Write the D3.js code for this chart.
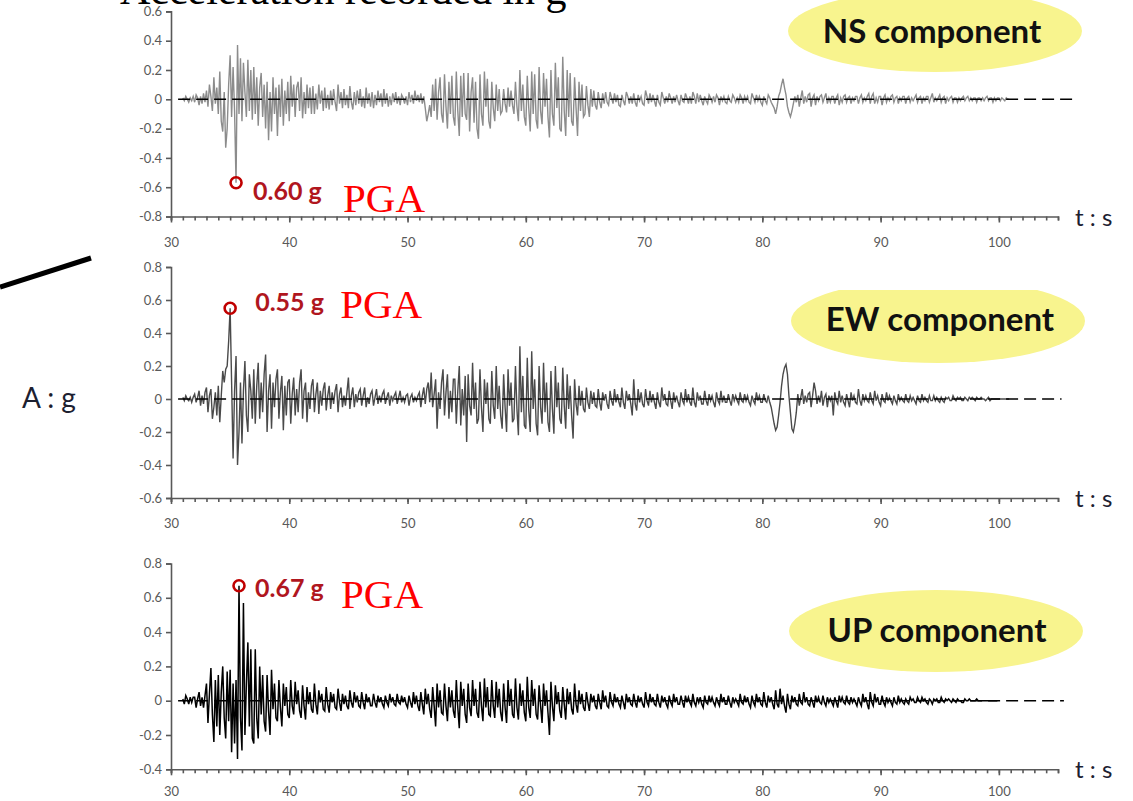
<!DOCTYPE html>
<html lang="en">
<head>
<meta charset="UTF-8"/>
<title>Acceleration recorded in g</title>
<script src="https://d3js.org/d3.v7.min.js"></script>
<style>
  body { margin: 0; background: #fff; }
  svg { display: block; }
</style>
</head>
<body>
<script>
    // sampling of the traces (seconds): 8 readings per second from t = 31 s
    var T0 = 31, DT = 0.125;

    // NS component, g (one row per second)
    var nsAccel = [
        0.01,-0.01,0.02,0.00,-0.02,0.01,-0.01,0.02,
        -0.02,0.03,0.01,-0.04,0.02,-0.03,0.04,-0.02,
        0.06,-0.05,0.1,0.02,-0.08,0.15,-0.03,0.08,
        -0.1,0.19,-0.15,-0.22,0.05,-0.33,-0.2,0.1,
        0.3,-0.12,0.22,-0.08,-0.57,0.37,-0.1,0.28,
        -0.15,0.25,0.05,-0.12,0.27,-0.08,0.2,-0.14,
        0.22,-0.1,0.15,-0.18,0.08,0.18,-0.12,0.1,
        -0.2,0.12,-0.28,0.05,-0.22,0.15,-0.1,0.08,
        -0.25,0.1,-0.12,0.14,-0.18,0.06,-0.1,0.12,
        -0.15,0.16,-0.05,0.1,-0.12,0.08,0.12,-0.08,
        0.15,-0.13,0.05,-0.1,0.1,-0.06,0.08,-0.1,
        0.09,-0.1,0.04,-0.07,0.1,-0.03,0.06,-0.08,
        0.08,-0.06,0.03,-0.07,0.06,-0.04,0.07,-0.02,
        -0.08,0.1,-0.03,0.05,-0.06,0.07,-0.04,0.03,
        -0.06,0.09,-0.02,-0.07,0.05,-0.04,0.06,-0.03,
        0.07,-0.05,0.02,-0.06,0.08,-0.03,0.04,-0.05,
        0.05,-0.06,0.03,-0.04,0.06,-0.02,0.04,-0.05,
        0.07,-0.03,0.04,-0.05,0.02,-0.04,0.04,-0.02,
        0.05,-0.03,0.02,-0.04,0.03,0.01,-0.03,0.02,
        -0.04,0.05,-0.02,0.03,-0.03,0.06,-0.01,0.03,
        -0.02,0.04,-0.03,0.02,-0.06,-0.15,-0.1,-0.04,
        -0.12,0.1,-0.08,0.14,-0.14,0.05,0.15,-0.1,
        -0.16,0.17,-0.05,-0.2,0.12,-0.1,0.16,-0.12,
        -0.18,0.19,-0.08,-0.25,0.16,-0.12,0.18,-0.1,
        -0.14,0.18,-0.22,0.05,0.15,-0.16,0.12,-0.2,
        -0.27,0.17,-0.1,-0.18,0.19,-0.05,0.14,-0.15,
        -0.2,0.12,-0.06,-0.15,0.1,-0.08,0.07,-0.1,
        -0.08,0.07,-0.03,-0.09,0.08,-0.05,0.06,-0.04,
        -0.1,0.12,-0.05,-0.15,0.2,-0.08,0.1,-0.12,
        -0.18,0.16,-0.06,-0.22,0.19,-0.1,0.17,-0.14,
        -0.2,0.22,-0.08,-0.17,0.18,-0.05,0.14,-0.12,
        -0.26,0.2,-0.1,-0.18,0.25,-0.06,0.15,-0.2,
        -0.22,0.29,-0.08,-0.25,0.2,-0.12,0.18,-0.15,
        -0.18,0.15,-0.06,-0.25,0.12,-0.08,0.1,-0.12,
        -0.1,0.09,-0.04,-0.12,0.07,-0.05,0.06,-0.04,
        -0.07,0.05,-0.02,-0.06,0.04,-0.03,0.05,-0.02,
        -0.04,0.05,0.01,-0.03,0.04,-0.02,0.03,-0.04,
        -0.05,0.03,-0.01,-0.04,0.05,0.02,-0.03,0.02,
        -0.03,0.04,-0.02,-0.05,0.03,-0.01,0.02,-0.03,
        -0.04,0.06,0.02,-0.03,0.04,-0.02,0.03,-0.01,
        -0.05,0.03,-0.02,-0.04,0.05,0.01,-0.03,0.02,
        -0.02,0.04,0.01,-0.03,0.02,-0.02,0.03,-0.01,
        -0.04,0.03,-0.01,-0.02,0.04,0.01,-0.03,0.02,
        -0.03,0.05,0.02,-0.03,0.04,-0.02,0.03,-0.01,
        -0.04,0.02,-0.01,-0.03,0.03,0.01,-0.02,0.02,
        -0.02,0.03,0.01,-0.04,0.02,-0.01,0.02,-0.02,
        -0.03,0.02,-0.01,-0.02,0.03,0.01,-0.02,0.01,
        -0.02,0.03,0.01,-0.03,0.02,-0.01,0.02,-0.02,
        -0.03,0.04,0.01,-0.02,0.03,-0.01,0.02,-0.02,
        -0.04,0.02,-0.01,-0.03,0.03,0.01,-0.02,-0.04,
        -0.06,-0.1,-0.05,0.02,0.05,0.1,0.14,0.08,
        0.03,-0.05,-0.09,-0.12,-0.08,-0.03,0.02,-0.02,
        0.03,-0.05,0.01,0.06,-0.03,0.02,-0.02,0.03,
        0.04,-0.05,0.01,0.03,-0.04,0.02,-0.01,0.02,
        0.03,-0.02,0.01,0.04,-0.03,0.01,-0.02,0.02,
        0.02,-0.03,0.01,0.03,-0.04,0.01,-0.02,0.02,
        0.03,-0.02,0.01,0.02,-0.03,0.01,-0.01,0.02,
        0.02,-0.03,0.01,0.03,-0.02,0.01,-0.01,0.02,
        0.04,-0.03,0.02,0.04,-0.03,0.01,-0.02,0.02,
        0.02,-0.04,0.01,0.03,-0.02,0.01,-0.01,0.02,
        0.03,-0.02,0.01,0.02,-0.03,0.01,-0.01,0.02,
        0.02,-0.03,0.01,0.02,-0.02,0.01,-0.01,0.01,
        0.03,-0.02,0.01,0.02,-0.03,0.01,-0.01,0.02,
        0.02,-0.02,0.01,0.04,-0.02,0.01,-0.01,0.01,
        0.03,-0.02,0.01,0.02,-0.03,0.01,-0.01,0.01,
        0.02,-0.02,0.01,0.01,-0.02,0.01,-0.01,0.01,
        0.02,-0.01,0.01,0.02,-0.01,0.01,-0.01,0.01,
        0.01,-0.02,0.01,0.01,-0.01,0.01,-0.01,0.01,
        0.02,-0.01,0.01,0.01,-0.02,0.01,-0.01,0.01,
        0.01,-0.01,0.01,0.00,-0.01,0.01,0.00,0.00
    ];

    // EW component, g
    var ewAccel = [
        0.01,-0.01,0.02,0.00,-0.01,0.01,-0.02,0.01,
        0.03,-0.02,0.01,0.05,-0.04,0.02,-0.03,0.04,
        0.07,-0.08,0.02,0.06,-0.12,-0.05,0.04,-0.1,
        0.08,-0.14,0.02,0.17,0.1,0.18,0.2,0.35,
        0.55,0.1,-0.36,0.05,0.26,-0.4,-0.2,0.1,
        -0.27,0.05,0.23,-0.1,-0.2,0.15,0.05,-0.12,
        0.18,-0.15,0.08,0.22,-0.12,0.1,-0.08,0.15,
        0.27,-0.2,0.05,0.15,-0.18,0.1,-0.05,0.12,
        0.18,-0.12,0.04,0.14,-0.19,0.08,-0.1,0.1,
        0.12,-0.15,0.03,0.13,-0.1,0.06,-0.08,0.1,
        0.18,-0.12,0.05,0.1,-0.14,0.04,-0.06,0.08,
        0.12,-0.08,0.03,0.1,-0.09,0.05,-0.04,0.06,
        0.1,-0.07,0.02,0.08,-0.06,0.04,-0.03,0.05,
        0.09,-0.08,0.03,0.07,-0.05,0.02,-0.04,0.04,
        0.13,-0.06,0.02,0.07,-0.05,0.03,-0.02,0.04,
        0.06,-0.04,0.02,0.07,-0.05,0.01,-0.03,0.03,
        0.05,-0.04,0.01,0.06,-0.03,0.02,-0.02,0.03,
        0.05,-0.03,0.01,0.04,-0.04,0.02,-0.01,0.02,
        0.04,-0.03,0.01,0.05,-0.02,0.01,-0.02,0.02,
        0.03,-0.04,0.01,0.03,-0.02,0.01,-0.01,0.02,
        0.04,-0.05,0.02,0.07,-0.03,0.06,0.1,-0.02,
        0.16,-0.05,0.03,0.12,-0.18,0.04,-0.06,0.1,
        0.18,-0.1,0.04,0.15,-0.12,0.05,-0.08,0.12,
        0.12,-0.15,0.05,0.2,-0.16,0.06,-0.1,0.14,
        -0.26,0.15,-0.04,-0.1,0.22,-0.06,0.1,-0.15,
        -0.12,0.18,-0.05,-0.2,0.12,-0.03,0.1,-0.12,
        -0.15,0.17,-0.04,-0.12,0.2,-0.06,0.08,-0.1,
        -0.18,0.15,-0.05,-0.2,0.18,-0.04,0.1,-0.14,
        -0.12,0.2,-0.06,-0.22,0.32,-0.08,0.14,-0.16,
        -0.18,0.25,-0.07,-0.2,0.29,-0.06,0.12,-0.15,
        -0.22,0.2,-0.05,-0.15,0.22,-0.08,0.1,-0.14,
        -0.2,0.17,-0.06,-0.21,0.2,-0.05,0.1,-0.12,
        -0.15,0.19,-0.04,-0.18,0.15,-0.06,0.08,-0.1,
        -0.24,0.12,-0.03,-0.1,0.08,-0.04,0.05,-0.06,
        -0.08,0.07,-0.02,-0.06,0.05,-0.03,0.04,-0.04,
        -0.05,0.06,-0.02,-0.07,0.04,-0.01,0.03,-0.03,
        -0.06,0.05,-0.01,-0.04,0.06,-0.02,0.03,-0.02,
        -0.05,0.07,-0.02,-0.06,0.05,-0.01,0.03,-0.03,
        -0.1,0.12,-0.03,-0.07,0.06,-0.02,0.04,-0.03,
        -0.05,0.06,-0.01,-0.04,0.05,-0.02,0.03,-0.02,
        -0.06,0.04,-0.02,-0.05,0.07,-0.01,0.03,-0.03,
        -0.04,0.05,-0.01,-0.06,0.04,-0.02,0.02,-0.02,
        -0.05,0.04,-0.01,-0.03,0.06,-0.02,0.03,-0.02,
        -0.04,0.07,-0.02,-0.05,0.04,-0.01,0.02,-0.03,
        -0.03,0.05,-0.01,-0.04,0.03,-0.01,0.02,-0.02,
        -0.05,0.04,-0.01,-0.03,0.05,-0.02,0.02,-0.02,
        -0.02,0.03,-0.01,-0.04,0.03,-0.01,0.02,-0.01,
        -0.03,0.04,-0.01,-0.02,0.03,-0.01,0.02,-0.02,
        -0.04,0.02,-0.01,-0.03,0.04,-0.01,0.02,-0.02,
        -0.02,0.03,-0.01,-0.02,0.02,-0.02,-0.05,-0.1,
        -0.15,-0.19,-0.17,-0.1,-0.02,0.08,0.15,0.19,
        0.21,0.15,0.02,-0.08,-0.18,-0.2,-0.15,-0.08,
        0.03,-0.04,0.01,0.06,-0.03,0.02,-0.02,0.03,
        0.04,-0.05,0.02,0.1,0.05,-0.03,0.02,-0.02,
        0.05,-0.04,0.01,0.03,-0.05,0.02,-0.01,0.02,
        -0.1,0.04,-0.01,-0.03,0.05,-0.02,0.02,-0.02,
        -0.04,0.03,-0.01,-0.05,0.04,-0.01,0.02,-0.02,
        -0.03,0.06,-0.01,-0.04,0.03,-0.01,0.02,-0.01,
        -0.02,0.04,-0.01,-0.03,0.05,-0.01,0.02,-0.02,
        -0.04,0.03,-0.01,-0.02,0.04,-0.01,0.02,-0.01,
        -0.03,0.02,-0.01,-0.03,0.03,-0.01,0.01,-0.01,
        -0.02,0.03,-0.01,-0.02,0.02,-0.01,0.01,-0.01,
        -0.03,0.02,-0.01,-0.02,0.03,-0.01,0.01,-0.01,
        -0.02,0.02,-0.01,-0.01,0.02,-0.01,0.01,-0.01,
        -0.02,0.01,-0.01,-0.02,0.01,0.00,0.01,-0.01,
        -0.01,0.02,0.00,-0.01,0.01,0.00,0.01,-0.01,
        -0.01,0.01,0.00,-0.01,0.01,0.00,0.01,0.00,
        -0.01,0.01,0.00,0.00,0.01,0.00,0.00,-0.01,
        0.00,0.01,-0.01,0.00,0.00,0.00,0.00,0.00,
        0,0,0,0,0,0,0,0
    ];

    // UP component, g
    var upAccel = [
        0.01,-0.02,0.03,0.01,-0.02,0.02,-0.01,0.02,
        0.02,-0.04,0.01,0.05,-0.03,0.02,-0.04,0.03,
        0.1,-0.13,0.04,0.19,-0.08,-0.24,0.12,-0.15,
        0.15,-0.2,0.05,0.2,-0.1,-0.22,0.17,-0.12,
        0.18,-0.3,0.1,-0.25,0.12,-0.34,0.67,-0.1,
        -0.29,0.57,-0.2,0.1,0.34,-0.15,0.3,-0.22,
        -0.25,0.3,-0.1,-0.22,0.2,-0.08,0.15,-0.12,
        -0.18,0.15,-0.06,-0.2,0.18,-0.05,0.1,-0.1,
        -0.12,0.12,-0.04,-0.15,0.1,-0.03,0.08,-0.08,
        -0.1,0.12,-0.03,-0.08,0.11,-0.02,0.06,-0.06,
        -0.1,0.09,-0.03,-0.11,0.08,-0.02,0.05,-0.05,
        -0.07,0.1,-0.02,-0.08,0.06,-0.01,0.04,-0.05,
        -0.06,0.08,-0.02,-0.07,0.05,-0.01,0.04,-0.04,
        -0.05,0.07,-0.01,-0.06,0.04,-0.02,0.03,-0.03,
        -0.05,0.06,-0.01,-0.04,0.05,-0.01,0.03,-0.03,
        -0.04,0.05,-0.01,-0.05,0.04,-0.01,0.02,-0.03,
        -0.03,0.04,-0.01,-0.04,0.03,-0.01,0.02,-0.02,
        -0.04,0.03,-0.01,-0.03,0.04,-0.01,0.02,-0.02,
        -0.03,0.04,-0.01,-0.02,0.03,-0.01,0.02,-0.02,
        -0.04,0.03,-0.01,-0.04,0.05,-0.02,0.03,-0.03,
        -0.06,0.05,-0.02,-0.08,0.07,-0.02,0.04,-0.05,
        -0.1,0.08,-0.03,-0.15,0.1,-0.04,0.06,-0.07,
        -0.08,0.1,-0.03,-0.12,0.08,-0.04,0.06,-0.06,
        -0.1,0.12,-0.04,-0.16,0.11,-0.03,0.07,-0.08,
        -0.13,0.1,-0.04,-0.09,0.12,-0.03,0.07,-0.07,
        -0.1,0.11,-0.03,-0.12,0.13,-0.04,0.08,-0.08,
        -0.09,0.12,-0.03,-0.1,0.11,-0.04,0.07,-0.07,
        -0.12,0.1,-0.04,-0.13,0.12,-0.03,0.07,-0.08,
        -0.1,0.13,-0.04,-0.11,0.1,-0.03,0.06,-0.07,
        -0.12,0.14,-0.04,-0.1,0.12,-0.03,0.07,-0.08,
        -0.11,0.09,-0.03,-0.13,0.1,-0.03,0.06,-0.07,
        -0.2,0.11,-0.03,-0.12,0.09,-0.02,0.05,-0.06,
        -0.1,0.08,-0.02,-0.11,0.07,-0.02,0.05,-0.05,
        -0.08,0.1,-0.02,-0.07,0.06,-0.02,0.04,-0.04,
        -0.06,0.05,-0.01,-0.06,0.04,-0.01,0.03,-0.03,
        -0.05,0.04,-0.01,-0.05,0.06,-0.01,0.03,-0.03,
        -0.04,0.05,-0.01,-0.03,0.04,-0.01,0.02,-0.02,
        -0.04,0.03,-0.01,-0.05,0.04,-0.01,0.02,-0.02,
        -0.03,0.04,-0.01,-0.04,0.03,-0.01,0.02,-0.02,
        -0.04,0.05,-0.01,-0.03,0.04,-0.01,0.02,-0.02,
        -0.03,0.04,-0.01,-0.04,0.03,-0.01,0.02,-0.02,
        -0.04,0.03,-0.01,-0.03,0.04,-0.01,0.02,-0.02,
        -0.02,0.03,-0.01,-0.04,0.03,-0.01,0.02,-0.01,
        -0.03,0.04,-0.01,-0.03,0.02,-0.01,0.02,-0.02,
        -0.04,0.03,-0.01,-0.02,0.03,-0.01,0.02,-0.01,
        -0.03,0.02,-0.01,-0.03,0.04,-0.01,0.02,-0.02,
        -0.02,0.03,-0.01,-0.04,0.02,-0.01,0.01,-0.01,
        -0.03,0.04,-0.01,-0.02,0.03,-0.01,0.02,-0.02,
        -0.04,0.03,-0.01,-0.03,0.04,-0.01,0.02,-0.02,
        -0.03,0.05,-0.01,-0.04,0.03,-0.01,0.02,-0.02,
        -0.05,0.06,-0.02,-0.04,0.07,-0.02,0.03,-0.03,
        -0.07,0.04,-0.02,-0.05,0.03,-0.01,0.02,-0.02,
        -0.03,0.04,-0.01,-0.02,0.05,-0.01,0.02,-0.02,
        -0.03,0.02,-0.01,-0.04,0.03,-0.01,0.02,-0.01,
        -0.02,0.03,-0.01,-0.03,0.02,-0.01,0.01,-0.01,
        -0.03,0.02,-0.01,-0.04,0.03,-0.01,0.02,-0.01,
        -0.02,0.03,-0.01,-0.02,0.02,-0.01,0.01,-0.01,
        -0.03,0.02,-0.01,-0.03,0.04,-0.01,0.02,-0.02,
        -0.05,0.05,-0.01,-0.03,0.04,-0.01,0.02,-0.02,
        -0.02,0.03,-0.01,-0.03,0.02,-0.01,0.01,-0.01,
        -0.03,0.02,-0.01,-0.02,0.03,-0.01,0.01,-0.01,
        -0.02,0.01,-0.01,-0.02,0.02,0.00,0.01,-0.01,
        -0.01,0.02,0.00,-0.01,0.02,0.00,0.01,-0.01,
        -0.02,0.01,0.00,-0.02,0.01,0.00,0.01,-0.01,
        -0.01,0.02,0.00,-0.01,0.01,0.00,0.01,0.00,
        -0.01,0.01,0.00,-0.01,0.01,0.00,0.00,-0.01,
        -0.01,0.01,0.00,0.00,0.01,0.00,0.00,0.00,
        0,0.01,0,0,0,0,0,0,
        0,0,0,0,0,0,0,0
    ];

    // axis ticks and labels
    var xMajorTicks = [30, 40, 50, 60, 70, 80, 90, 100];
    var nsTicks = [-0.8, -0.6, -0.4, -0.2, 0, 0.2, 0.4, 0.6];
    var ewTicks = [-0.6, -0.4, -0.2, 0, 0.2, 0.4, 0.6, 0.8];
    var upTicks = [-0.4, -0.2, 0, 0.2, 0.4, 0.6, 0.8];
    var componentNames = ["NS component", "EW component", "UP component"];
    var pgaLabels = ["0.60 g", "0.55 g", "0.67 g"];

    var w = 1133, h = 801;
    var axisColor = "#595959";
    var sans = "Lato, 'Open Sans', sans-serif";
    var serif = "'Liberation Serif', 'Times New Roman', serif";

    var svg = d3.select("body").append("svg")
        .attr("width", w)
        .attr("height", h)
        .style("font-family", sans);

    var xScale = d3.scaleLinear().domain([30, 105]).range([171, 1058]);

    // panel layout (positions only)
    var panels = [
        { data: nsAccel, ticks: nsTicks, range: [216.5, 11.4], color: "#8c8c8c", width: 1.4,
          zeroEnd: 106.5, dashOnTop: true, pad: 15,
          ell: [935, 31, 147, 41], nameY: 43, nameX: 932,
          lab: [17, 17], pga: [107, 29] },
        { data: ewAccel, ticks: ewTicks, range: [498, 267], color: "#4a4a4a", width: 1.4,
          zeroEnd: 105.3, dashOnTop: true, pad: 15,
          ell: [938, 321, 147, 42], nameY: 331, nameX: 940, clipTop: 290,
          lab: [25, 3], pga: [110, 10] },
        { data: upAccel, ticks: upTicks, range: [769.3, 563.5], color: "#000000", width: 1.5,
          zeroEnd: 105.5, dashOnTop: false, pad: 11,
          ell: [936, 631, 147, 41], nameY: 642, nameX: 937,
          lab: [16, 11], pga: [102, 22] }
    ];

    // clip for the EW ellipse, its top is cut flat
    svg.append("defs").append("clipPath")
        .attr("id", "ewClip")
        .append("rect")
        .attr("x", 0).attr("y", 290).attr("width", w).attr("height", 200);

    panels.forEach(function(p, k) {
        var yScale = d3.scaleLinear().domain([p.ticks[0], p.ticks[p.ticks.length - 1]]).range(p.range);
        var g = svg.append("g");

        // name bubble
        var ell = g.append("ellipse")
            .attr("cx", p.ell[0]).attr("cy", p.ell[1])
            .attr("rx", p.ell[2]).attr("ry", p.ell[3])
            .attr("fill", "#f8f48e");
        if (p.clipTop) ell.attr("clip-path", "url(#ewClip)");
        g.append("text")
            .attr("x", p.nameX).attr("y", p.nameY)
            .attr("text-anchor", "middle")
            .attr("font-size", 33)
            .attr("font-weight", "bold")
            .attr("fill", "#111")
            .text(componentNames[k]);

        // y axis
        var yAxis = d3.axisLeft(yScale)
            .tickValues(p.ticks)
            .tickSize(5)
            .tickPadding(4)
            .tickFormat(function(d) { return d === 0 ? "0" : d.toFixed(1); });
        var ya = g.append("g")
            .attr("transform", "translate(" + xScale(30) + ",0)")
            .call(yAxis);

        // x axis: minor ticks every second, labelled every 10 s
        var xMinor = d3.axisBottom(xScale)
            .tickValues(d3.range(30, 106, 1))
            .tickSize(4)
            .tickFormat("");
        var xMajor = d3.axisBottom(xScale)
            .tickValues(xMajorTicks)
            .tickSize(6)
            .tickPadding(p.pad)
            .tickFormat(d3.format("d"));
        var xa1 = g.append("g")
            .attr("transform", "translate(0," + p.range[0] + ")")
            .call(xMinor);
        var xa2 = g.append("g")
            .attr("transform", "translate(0," + p.range[0] + ")")
            .call(xMajor);
        xa2.select(".domain").remove();

        [ya, xa1, xa2].forEach(function(a) {
            a.selectAll("path, line").attr("stroke", axisColor).attr("stroke-width", 1.6);
            a.selectAll("text")
                .attr("fill", axisColor)
                .attr("font-size", 13)
                .style("font-family", sans);
        });

        // "t : s"
        g.append("text")
            .attr("x", 1075).attr("y", p.range[0] + 9)
            .attr("font-size", 24)
            .attr("fill", "#1c2030")
            .text("t : s");

        // zero line
        var zero = function() {
            g.append("line")
                .attr("x1", xScale(30.6)).attr("x2", xScale(p.zeroEnd))
                .attr("y1", yScale(0)).attr("y2", yScale(0))
                .attr("stroke", "#000")
                .attr("stroke-width", 1.4)
                .attr("stroke-dasharray", "12,6");
        };
        if (!p.dashOnTop) zero();

        // trace
        var line = d3.line()
            .x(function(d, i) { return xScale(T0 + i * DT); })
            .y(function(d) { return yScale(d); });
        g.append("path")
            .datum(p.data)
            .attr("d", line)
            .attr("fill", "none")
            .attr("stroke", p.color)
            .attr("stroke-width", p.width);

        if (p.dashOnTop) zero();

        // peak ground acceleration marker
        var iMax = d3.maxIndex(p.data, function(d) { return Math.abs(d); });
        var px = xScale(T0 + iMax * DT), py = yScale(p.data[iMax]);
        g.append("circle")
            .attr("cx", px).attr("cy", py).attr("r", 5.5)
            .attr("fill", "none")
            .attr("stroke", "#c00000")
            .attr("stroke-width", 2.6);
        g.append("text")
            .attr("x", px + p.lab[0]).attr("y", py + p.lab[1])
            .attr("font-size", 25)
            .attr("font-weight", "bold")
            .attr("fill", "#b0161e")
            .text(pgaLabels[k]);
        g.append("text")
            .attr("x", px + p.pga[0]).attr("y", py + p.pga[1])
            .attr("font-size", 41)
            .attr("fill", "#ff0000")
            .style("font-family", serif)
            .text("PGA");
    });

    // title, cut by the top edge
    svg.append("text")
        .attr("x", 120).attr("y", 4)
        .attr("font-size", 42)
        .attr("fill", "#000")
        .style("font-family", serif)
        .text("Acceleration recorded in g");

    // "A : g"
    svg.append("text")
        .attr("x", 22).attr("y", 408)
        .attr("font-size", 28)
        .attr("fill", "#1c2030")
        .text("A : g");

    // black stroke on the left
    svg.append("line")
        .attr("x1", 0).attr("y1", 287)
        .attr("x2", 91).attr("y2", 258)
        .attr("stroke", "#000")
        .attr("stroke-width", 5);
</script>
</body>
</html>
